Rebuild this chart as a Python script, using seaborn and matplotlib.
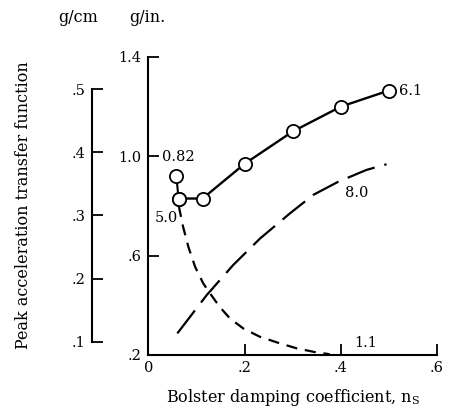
import matplotlib
matplotlib.use("Agg")
import matplotlib.pyplot as plt
import seaborn as sns
import pandas as pd
import numpy as np

# ---- data ----
solid_x = [0.0625, 0.1125, 0.2, 0.3, 0.4, 0.5]
solid_y = [0.83, 0.83, 0.97, 1.10, 1.20, 1.265]
iso_x = [0.058, 0.0625]
iso_y = [0.92, 0.83]

long_x = [0.060, 0.121, 0.176, 0.232, 0.294, 0.343, 0.394, 0.453, 0.495]
long_y = [0.287, 0.441, 0.562, 0.669, 0.770, 0.845, 0.897, 0.945, 0.968]

short_x = [0.063, 0.072, 0.083, 0.097, 0.114, 0.128, 0.148, 0.169, 0.197,
           0.231, 0.273, 0.308, 0.345, 0.377]
short_y = [0.800, 0.716, 0.635, 0.555, 0.488, 0.448, 0.394, 0.348, 0.307,
           0.274, 0.247, 0.227, 0.212, 0.203]

xticks = [0, 0.2, 0.4, 0.6]
xticklabels = ["0", ".2", ".4", ".6"]
yticks = [0.2, 0.6, 1.0, 1.4]
yticklabels = [".2", ".6", "1.0", "1.4"]
cm_ticks = [0.1, 0.2, 0.3, 0.4, 0.5]
cm_labels = [".1", ".2", ".3", ".4", ".5"]

sns.set_style("white")
plt.rcParams["font.family"] = ["DejaVu Serif"]
plt.rcParams["mathtext.default"] = "regular"
plt.rcParams["text.color"] = "black"
plt.rcParams["axes.labelcolor"] = "black"
plt.rcParams["xtick.color"] = "black"
plt.rcParams["ytick.color"] = "black"
FS = 10.5
LFS = 11.5

fig = plt.figure(figsize=(4.52, 4.15), dpi=100)
ax = fig.add_axes([0.3285, 0.1446, 0.6383, 0.7181])

df_long = pd.DataFrame({"x": long_x, "y": long_y})
df_short = pd.DataFrame({"x": short_x, "y": short_y})
df_solid = pd.DataFrame({"x": solid_x, "y": solid_y})
df_iso = pd.DataFrame({"x": iso_x, "y": iso_y})

sns.lineplot(data=df_long, x="x", y="y", ax=ax, color="black", lw=1.6,
             sort=False, estimator=None)
ax.lines[-1].set_dashes([13, 4.5])
sns.lineplot(data=df_short, x="x", y="y", ax=ax, color="black", lw=1.6,
             sort=False, estimator=None)
ax.lines[-1].set_dashes([5, 3.5])
sns.lineplot(data=df_iso, x="x", y="y", ax=ax, color="black", lw=1.5,
             sort=False, estimator=None, marker="o", markersize=9.5,
             markerfacecolor="white", markeredgecolor="black", markeredgewidth=1.3)
sns.lineplot(data=df_solid, x="x", y="y", ax=ax, color="black", lw=1.7,
             sort=False, estimator=None, marker="o", markersize=9.5,
             markerfacecolor="white", markeredgecolor="black", markeredgewidth=1.3)

ax.set_xlim(0, 0.6)
ax.set_ylim(0.2, 1.4)
for s in ["top", "right"]:
    ax.spines[s].set_visible(False)
for s in ["left", "bottom"]:
    ax.spines[s].set_color("black")
    ax.spines[s].set_linewidth(1.5)
ax.set_xticks(xticks)
ax.set_xticklabels(xticklabels, fontsize=FS)
ax.set_yticks(yticks)
ax.set_yticklabels(yticklabels, fontsize=FS)
ax.tick_params(axis="both", direction="in", length=8, width=1.3, color="black",
               labelcolor="black", left=True, bottom=True)
ax.tick_params(axis="y", pad=5)
ax.tick_params(axis="x", pad=4)
ax.set_xlabel(r"Bolster damping coefficient, n$_{S}$", fontsize=LFS, labelpad=9,
              color="black")
ax.set_ylabel("")

ann = dict(fontsize=FS, color="black", va="center", ha="left")
ax.text(0.028, 0.997, "0.82", **ann)
ax.text(0.522, 1.265, "6.1", **ann)
ax.text(0.408, 0.852, "8.0", **ann)
ax.text(0.0125, 0.75, "5.0", **ann)
ax.text(0.427, 0.247, "1.1", **ann)

# secondary g/cm scale
ax2 = fig.add_axes([0.2046, 0.1446, 0.001, 0.7181])
ax2.set_ylim(0.2 / 2.54, 1.4 / 2.54)
ax2.set_xticks([])
for s in ["top", "right", "bottom"]:
    ax2.spines[s].set_visible(False)
ax2.spines["left"].set_bounds(0.1, 0.5)
ax2.spines["left"].set_linewidth(1.5)
ax2.spines["left"].set_color("black")
ax2.set_yticks(cm_ticks)
ax2.set_yticklabels(cm_labels, fontsize=FS)
ax2.tick_params(axis="y", direction="in", length=8, width=1.3, color="black",
                labelcolor="black", pad=5, left=True)
ax2.patch.set_visible(False)

fig.text(0.052, 0.506, "Peak acceleration transfer function", rotation=90,
         fontsize=LFS, ha="center", va="center", color="black")
fig.text(0.173, 0.957, "g/cm", fontsize=LFS, ha="center", va="center", color="black")
fig.text(0.325, 0.957, "g/in.", fontsize=LFS, ha="center", va="center", color="black")

fig.savefig("out.png", dpi=100)
